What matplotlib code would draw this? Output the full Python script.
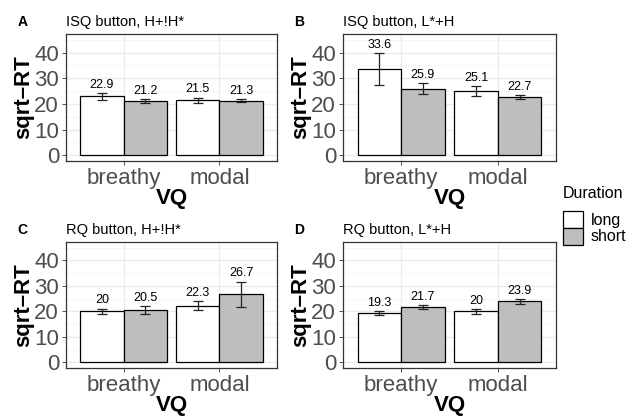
import numpy as np
import matplotlib
matplotlib.use("Agg")
import matplotlib.pyplot as plt
from matplotlib.patches import Patch

plt.rcParams["font.family"] = ["Liberation Sans", "DejaVu Sans"]

vq = ["breathy", "modal"]
durations = ["long", "short"]
panel_letters = ["A", "B", "C", "D"]
panel_titles = ["ISQ button, H+!H*", "ISQ button, L*+H", "RQ button, H+!H*", "RQ button, L*+H"]

# mean sqrt-RT per panel: [breathy, modal]
long_means = [[22.9, 21.5], [33.6, 25.1], [20.0, 22.3], [19.3, 20.0]]
short_means = [[21.2, 21.3], [25.9, 22.7], [20.5, 26.7], [21.7, 23.9]]
# standard errors
long_se = [[1.3, 1.0], [6.1, 1.9], [1.1, 1.8], [0.9, 0.9]]
short_se = [[0.8, 0.7], [2.2, 0.8], [1.7, 5.0], [0.9, 1.1]]

fill_colors = {"long": "white", "short": "#BEBEBE"}

W, H = 636, 417
fig = plt.figure(figsize=(W / 100, H / 100), dpi=100)

# axes boxes in pixels: (left, top, right, bottom)
boxes = [(66, 34, 277, 161), (343, 34, 556, 161),
         (66, 242, 277, 368), (343, 242, 556, 368)]


def label_fmt(v):
    return f"{v:g}"


for i, (l, t, r, b) in enumerate(boxes):
    ax = fig.add_axes([l / W, 1 - b / H, (r - l) / W, (b - t) / H])
    x = np.arange(1, len(vq) + 1)
    width = 0.45
    for j, (dur, means, ses) in enumerate(zip(durations,
                                              [long_means[i], short_means[i]],
                                              [long_se[i], short_se[i]])):
        pos = x + (j - 0.5) * width
        ax.bar(pos, means, width=width, color=fill_colors[dur],
               edgecolor="black", linewidth=0.9, zorder=3)
        ax.errorbar(pos, means, yerr=ses, fmt="none", ecolor="#222222",
                    elinewidth=0.9, capsize=3.3, capthick=0.9, zorder=4)
        for p, m, s in zip(pos, means, ses):
            ax.annotate(label_fmt(m), (p, m + s), xytext=(0, 1.5),
                        textcoords="offset points", ha="center", va="bottom",
                        fontsize=9, color="black", zorder=5)

    ax.set_xlim(0.4, 2.6)
    ax.set_ylim(-2.25, 47.25)
    ax.set_xticks(x)
    ax.set_xticklabels(vq)
    ax.set_yticks([0, 10, 20, 30, 40])
    ax.set_yticks([5, 15, 25, 35, 45], minor=True)
    ax.grid(True, which="major", color="#EBEBEB", linewidth=1.0, zorder=0)
    ax.grid(True, which="minor", axis="y", color="#F4F4F4", linewidth=0.6, zorder=0)
    ax.set_axisbelow(True)
    ax.tick_params(which="major", length=3, width=0.6, color="#333333",
                   labelsize=16, labelcolor="#4D4D4D", pad=2)
    ax.tick_params(which="minor", length=0)
    for sp in ax.spines.values():
        sp.set_color("#333333")
        sp.set_linewidth(0.9)
    ax.set_xlabel("VQ", fontsize=16, fontweight="bold", labelpad=-0.5)
    ax.set_ylabel("sqrt\u2013RT", fontsize=16, fontweight="bold", labelpad=0)
    ax.text(-0.23, 1.04, panel_letters[i], transform=ax.transAxes,
            fontsize=10, fontweight="bold", ha="left", va="bottom")
    ax.text(0.0, 1.04, panel_titles[i], transform=ax.transAxes,
            fontsize=10.5, ha="left", va="bottom")

handles = [Patch(facecolor=fill_colors[d], edgecolor="black", linewidth=0.9, label=d)
           for d in durations]
leg = fig.legend(handles=handles, title="Duration", loc="upper left",
                 bbox_to_anchor=(563 / W, 1 - 186 / H), frameon=False,
                 fontsize=11.5, title_fontsize=11.5, handlelength=1.25,
                 handleheight=1.25, handletextpad=0.5, labelspacing=0.0,
                 borderaxespad=0, borderpad=0)
leg._legend_box.align = "left"
leg._legend_box.sep = 7

fig.savefig("out.png", dpi=100)
